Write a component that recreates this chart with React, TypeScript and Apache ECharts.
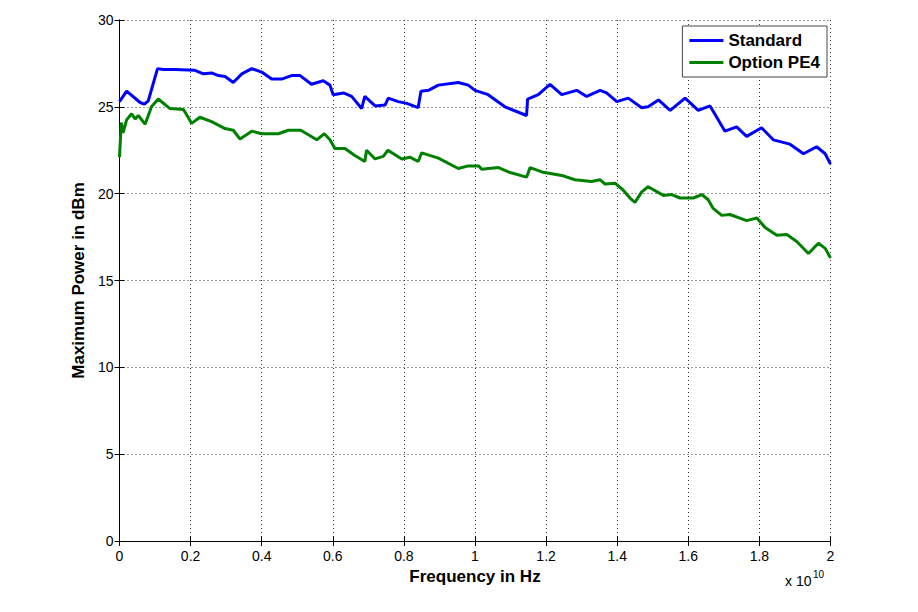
import React, { useEffect, useRef } from 'react';
import * as echarts from 'echarts';

// frequencies in GHz, power in dBm
const standardFreq = [
  0, 0.2, 0.58, 0.7, 0.81, 1.07, 1.23, 1.56, 2.12, 2.36, 2.59, 2.78, 2.97, 3.2,
  3.44, 3.72, 4.0, 4.28, 4.56, 4.84, 5.08, 5.4, 5.73, 5.92, 6.01, 6.3, 6.53,
  6.81, 6.9, 7.19, 7.47, 7.56, 7.84, 8.08, 8.4, 8.48, 8.69, 8.97, 9.53, 9.81,
  10.0, 10.37, 10.84, 11.45, 11.48, 11.78, 12.11, 12.44, 12.86, 13.14, 13.52,
  13.7, 13.99, 14.31, 14.69, 14.87, 15.16, 15.49, 15.91, 16.28, 16.61, 16.8,
  17.03, 17.36, 17.64, 18.06, 18.39, 18.86, 19.24, 19.61, 19.85, 20.0,
];
const standardPower = [
  25.3, 25.9, 25.25, 25.15, 25.35, 27.2, 27.15, 27.15, 27.1, 26.9, 26.95, 26.8,
  26.75, 26.4, 26.9, 27.2, 27.0, 26.6, 26.6, 26.8, 26.8, 26.3, 26.5, 26.25,
  25.7, 25.8, 25.6, 24.9, 25.6, 25.05, 25.1, 25.5, 25.3, 25.2, 24.95, 25.9,
  25.95, 26.25, 26.4, 26.25, 25.95, 25.7, 25.0, 24.5, 25.45, 25.7, 26.3, 25.7,
  25.95, 25.6, 25.95, 25.8, 25.3, 25.5, 24.95, 25.0, 25.4, 24.8, 25.5, 24.8,
  25.05, 24.4, 23.6, 23.85, 23.3, 23.8, 23.1, 22.85, 22.3, 22.7, 22.3, 21.7,
];

const pe4Freq = [
  0, 0.05, 0.1, 0.2, 0.34, 0.44, 0.53, 0.72, 0.9, 1.09, 1.42, 1.8, 2.03, 2.26,
  2.59, 2.97, 3.2, 3.39, 3.72, 4.0, 4.47, 4.75, 5.1, 5.55, 5.76, 5.92, 6.06,
  6.34, 6.62, 6.9, 6.95, 7.19, 7.42, 7.55, 7.94, 8.17, 8.4, 8.5, 8.97, 9.53,
  9.81, 10.1, 10.19, 10.66, 10.94, 11.45, 11.55, 11.88, 12.44, 12.81, 13.28,
  13.52, 13.66, 13.94, 14.17, 14.36, 14.5, 14.69, 14.87, 15.3, 15.53, 15.77,
  16.14, 16.38, 16.56, 16.7, 16.94, 17.17, 17.64, 17.93, 18.16, 18.49, 18.77,
  19.05, 19.38, 19.66, 19.85, 20.0,
];
const pe4Power = [
  22.1, 24.1, 23.5, 24.25, 24.6, 24.3, 24.5, 24.0, 25.0, 25.45, 24.9, 24.85,
  24.05, 24.4, 24.15, 23.75, 23.65, 23.15, 23.6, 23.45, 23.45, 23.65, 23.65,
  23.1, 23.45, 23.1, 22.6, 22.6, 22.2, 21.85, 22.5, 22.0, 22.15, 22.5, 22.0,
  22.1, 21.85, 22.35, 22.05, 21.45, 21.6, 21.6, 21.4, 21.5, 21.25, 20.95, 21.5,
  21.25, 21.05, 20.8, 20.7, 20.8, 20.55, 20.6, 20.2, 19.75, 19.5, 20.1, 20.4,
  19.9, 19.95, 19.75, 19.75, 19.95, 19.65, 19.15, 18.75, 18.8, 18.45, 18.6,
  18.05, 17.6, 17.65, 17.25, 16.55, 17.15, 16.85, 16.3,
];

const FONT = '"Liberation Sans", Arial, Helvetica, sans-serif';

const toPairs = (f: number[], p: number[]) => f.map((g, i) => [g * 1e9, p[i]]);

const App: React.FC = () => {
  const chartRef = useRef<HTMLDivElement>(null);

  useEffect(() => {
    if (!chartRef.current) return;
    const chart = echarts.init(chartRef.current, null, { renderer: 'svg' });

    const frameAxis = {
      axisLine: { show: true, lineStyle: { color: '#000', width: 1 } },
      axisTick: { show: true, inside: true, length: 5, lineStyle: { color: '#000' } },
      axisLabel: { show: false },
      splitLine: { show: false },
    };

    chart.setOption({
      animation: false,
      backgroundColor: '#fff',
      textStyle: { fontFamily: FONT },
      grid: { left: 119.5, right: 87.5, top: 20, bottom: 71, containLabel: false },
      legend: {
        orient: 'vertical',
        right: 91,
        top: 26,
        icon: 'rect',
        itemWidth: 34,
        itemHeight: 3,
        itemGap: 5,
        itemTextGap: 3,
        padding: [6, 7, 6, 7],
        borderColor: '#444',
        borderWidth: 1,
        backgroundColor: '#fff',
        textStyle: { fontFamily: FONT, fontSize: 17, fontWeight: 'bold', color: '#000', lineHeight: 17 },
        data: ['Standard', 'Option PE4'],
      },
      xAxis: [
        {
          type: 'value',
          min: 0,
          max: 2e10,
          interval: 2e9,
          name: 'Frequency in Hz',
          nameLocation: 'middle',
          nameGap: 24,
          nameTextStyle: { fontFamily: FONT, fontSize: 17, fontWeight: 'bold', color: '#000' },
          axisLine: { show: true, lineStyle: { color: '#000', width: 1 } },
          axisTick: { show: true, inside: true, length: 5, lineStyle: { color: '#000' } },
          axisLabel: {
            margin: 8,
            fontFamily: FONT,
            fontSize: 14,
            color: '#000',
            formatter: (v: number) => String(Number((v / 1e10).toFixed(1))),
          },
          splitLine: { show: true, lineStyle: { color: '#333', type: [1, 3], width: 1 } },
        },
        { type: 'value', position: 'top', min: 0, max: 2e10, interval: 2e9, ...frameAxis },
      ],
      yAxis: [
        {
          type: 'value',
          min: 0,
          max: 30,
          interval: 5,
          name: 'Maximum Power in dBm',
          nameLocation: 'middle',
          nameGap: 26,
          nameTextStyle: { fontFamily: FONT, fontSize: 17, fontWeight: 'bold', color: '#000' },
          axisLine: { show: true, lineStyle: { color: '#000', width: 1 } },
          axisTick: { show: true, inside: true, length: 5, lineStyle: { color: '#000' } },
          axisLabel: { margin: 6, fontFamily: FONT, fontSize: 14, color: '#000' },
          splitLine: { show: true, lineStyle: { color: '#333', type: [1, 3], width: 1 } },
        },
        { type: 'value', position: 'right', min: 0, max: 30, interval: 5, ...frameAxis },
      ],
      graphic: [
        {
          type: 'text',
          left: 785,
          top: 574,
          style: { text: 'x 10', font: `14px ${FONT}`, fill: '#000' },
        },
        {
          type: 'text',
          left: 813,
          top: 569,
          style: { text: '10', font: `10px ${FONT}`, fill: '#000' },
        },
      ],
      series: [
        {
          name: 'Standard',
          type: 'line',
          data: toPairs(standardFreq, standardPower),
          showSymbol: false,
          symbol: 'none',
          lineStyle: { color: '#0000ff', width: 3 },
          itemStyle: { color: '#0000ff' },
          z: 3,
        },
        {
          name: 'Option PE4',
          type: 'line',
          data: toPairs(pe4Freq, pe4Power),
          showSymbol: false,
          symbol: 'none',
          lineStyle: { color: '#008000', width: 3 },
          itemStyle: { color: '#008000' },
          z: 3,
        },
      ],
    });

    return () => {
      chart.dispose();
    };
  }, []);

  return (
    <div
      ref={chartRef}
      style={{ position: 'absolute', left: 0, top: 0, width: 918, height: 612, background: '#fff' }}
    />
  );
};

export default App;
